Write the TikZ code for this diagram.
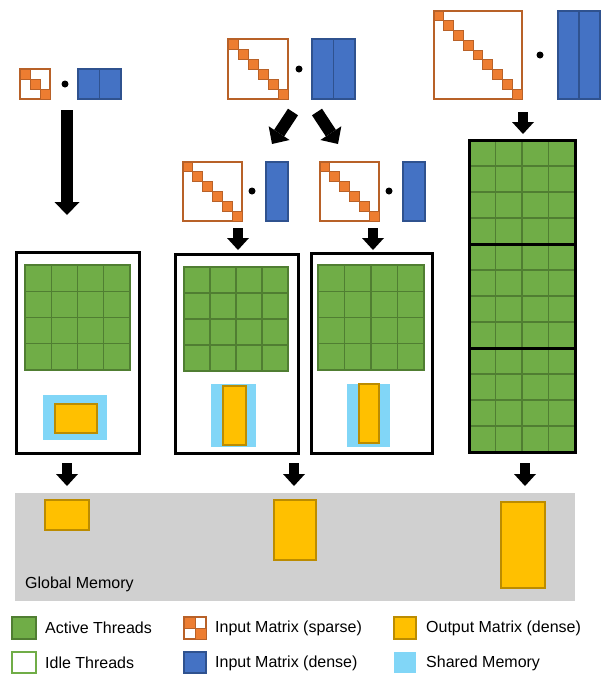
\documentclass[tikz,border=0pt]{standalone}
\usepackage{fontspec}
\setmainfont{Liberation Sans}
\usetikzlibrary{arrows.meta}
\definecolor{grn}{HTML}{70AD47}
\definecolor{grnd}{HTML}{507E32}
\definecolor{org}{HTML}{ED7D31}
\definecolor{orgd}{HTML}{B86128}
\definecolor{blu}{HTML}{4472C4}
\definecolor{blud}{HTML}{2F528F}
\definecolor{yel}{HTML}{FFC000}
\definecolor{yeld}{HTML}{BC8C00}
\definecolor{shm}{RGB}{129,214,247}
\definecolor{gmem}{RGB}{208,208,208}
\tikzset{
  cell/.style={fill=grn, draw=grnd, line width=1.2pt},
  blk/.style={draw=black, line width=3pt},
  densec/.style={fill=blu, draw=blud, line width=1.2pt},
  outm/.style={fill=yel, draw=yeld, line width=1.2pt},
  smem/.style={fill=shm},
  spbox/.style={draw=orgd, line width=1.3pt, fill=white},
  spblk/.style={fill=org, draw=orgd, line width=1pt},
  fatarrow/.style={draw=black, line width=12pt, -{Triangle[length=13pt,width=25pt,line width=0pt]}},
  smallarrow/.style={draw=black, line width=10pt, -{Triangle[length=12pt,width=22pt,line width=0pt]}},
  lbl/.style={anchor=west, inner sep=0pt, font=\fontsize{16}{19}\selectfont},
  dotc/.style={fill=black, circle, inner sep=0pt, minimum size=7pt}
}
\newcommand{\mySparse}[4]{%
  \draw[spbox] (#1,#2) rectangle ++(#4,#4);
  \pgfmathsetmacro\mycs{#4/#3}
  \foreach \k in {1,...,#3} {\filldraw[spblk] ({#1+(\k-1)*\mycs},{#2+(\k-1)*\mycs}) rectangle ++(\mycs,\mycs);}
}
\newcommand{\myDense}[5]{%
  \pgfmathsetmacro\mycw{#3/#5}
  \foreach \k in {1,...,#5} {\filldraw[densec] ({#1+(\k-1)*\mycw},#2) rectangle ++(\mycw,#4);}
}
\newcommand{\myGrid}[6]{%
  \foreach \i in {1,...,#3} {\foreach \j in {1,...,#4} {\filldraw[cell] ({#1+(\i-1)*#5},{#2+(\j-1)*#6}) rectangle ++(#5,#6);}}
}
\begin{document}
\begin{tikzpicture}[x=1pt,y=-1pt]
\useasboundingbox (0,0) rectangle (603,675);

% ---------- top inputs ----------
\mySparse{20}{69}{3}{30}
\node[dotc] (d1) at (65,84) {};
\myDense{78}{69}{43}{30}{2}

\mySparse{228}{39}{6}{60}
\node[dotc] (d2) at (299,69) {};
\myDense{312}{39}{43}{60}{2}

\mySparse{434}{11}{9}{88}
\node[dotc] (d3) at (540,55) {};
\myDense{558}{11}{42}{88}{2}

\mySparse{183}{162}{6}{59}
\node[dotc] (d2a) at (252,191) {};
\myDense{266}{162}{22}{59}{1}

\mySparse{320}{162}{6}{59}
\node[dotc] (d2b) at (389,191) {};
\myDense{403}{162}{22}{59}{1}

% ---------- thread blocks ----------
\draw[blk, fill=white] (16,252) rectangle (139,453);
\myGrid{25}{265}{4}{4}{26.25}{26.25}
\fill[smem] (43,395) rectangle (107,440);
\filldraw[outm] (55,404) rectangle (97,433);

\draw[blk, fill=white] (175,254) rectangle (298,453);
\myGrid{184}{267}{4}{4}{26}{26}
\fill[smem] (211,384) rectangle (256,447);
\filldraw[outm] (223,386) rectangle (246,445);

\draw[blk, fill=white] (311,253) rectangle (432,453);
\myGrid{318}{265}{4}{4}{26.5}{26.25}
\fill[smem] (347,384) rectangle (390,447);
\filldraw[outm] (359,384) rectangle (379,443);

\myGrid{469}{140}{4}{12}{26.5}{26}
\draw[blk] (469,140) rectangle (575,452);
\draw[blk] (469,244) -- (575,244);
\draw[blk] (469,348) -- (575,348);

% ---------- global memory ----------
\fill[gmem] (15,493) rectangle (575,601);
\node[lbl] (gm) at (25,584) {Global Memory};
\filldraw[outm] (45,500) rectangle (89,530);
\filldraw[outm] (274,500) rectangle (316,560);
\filldraw[outm] (501,502) rectangle (545,588);

% ---------- arrows ----------
\coordinate (a1s) at (67,110); \coordinate (a1e) at (67,215);
\coordinate (a2s) at (293,112); \coordinate (a2e) at (272,144);
\coordinate (a3s) at (317,112); \coordinate (a3e) at (338,144);
\coordinate (a4s) at (238,228); \coordinate (a4e) at (238,250);
\coordinate (a5s) at (373,228); \coordinate (a5e) at (373,250);
\coordinate (a6s) at (523,112); \coordinate (a6e) at (523,134);
\coordinate (b1s) at (67,463); \coordinate (b1e) at (67,486);
\coordinate (b2s) at (294,463); \coordinate (b2e) at (294,486);
\coordinate (b3s) at (525,463); \coordinate (b3e) at (525,486);
\draw[fatarrow] (a1s) -- (a1e);
\draw[fatarrow] (a2s) -- (a2e);
\draw[fatarrow] (a3s) -- (a3e);
\draw[smallarrow] (a4s) -- (a4e);
\draw[smallarrow] (a5s) -- (a5e);
\draw[smallarrow] (a6s) -- (a6e);
\draw[smallarrow] (b1s) -- (b1e);
\draw[smallarrow] (b2s) -- (b2e);
\draw[smallarrow] (b3s) -- (b3e);

% ---------- legend ----------
\filldraw[cell] (12,617) rectangle (36,639);
\node[lbl] (l1) at (45,628) {Active Threads};
\filldraw[fill=white, draw=grn, line width=1.2pt] (12,652) rectangle (36,673);
\node[lbl] (l2) at (45,663) {Idle Threads};

\draw[spbox] (184,617) rectangle (206,639);
\filldraw[spblk] (184,617) rectangle (195,628);
\filldraw[spblk] (195,628) rectangle (206,639);
\node[lbl] (l3) at (215,628) {Input Matrix (sparse)};
\filldraw[densec] (184,652) rectangle (206,673);
\node[lbl] (l4) at (215,663) {Input Matrix (dense)};

\filldraw[outm] (394,617) rectangle (416,639);
\node[lbl] (l5) at (426,628) {Output Matrix (dense)};
\fill[smem] (394,652) rectangle (416,673);
\node[lbl] (l6) at (426,663) {Shared Memory};
\end{tikzpicture}
\end{document}
